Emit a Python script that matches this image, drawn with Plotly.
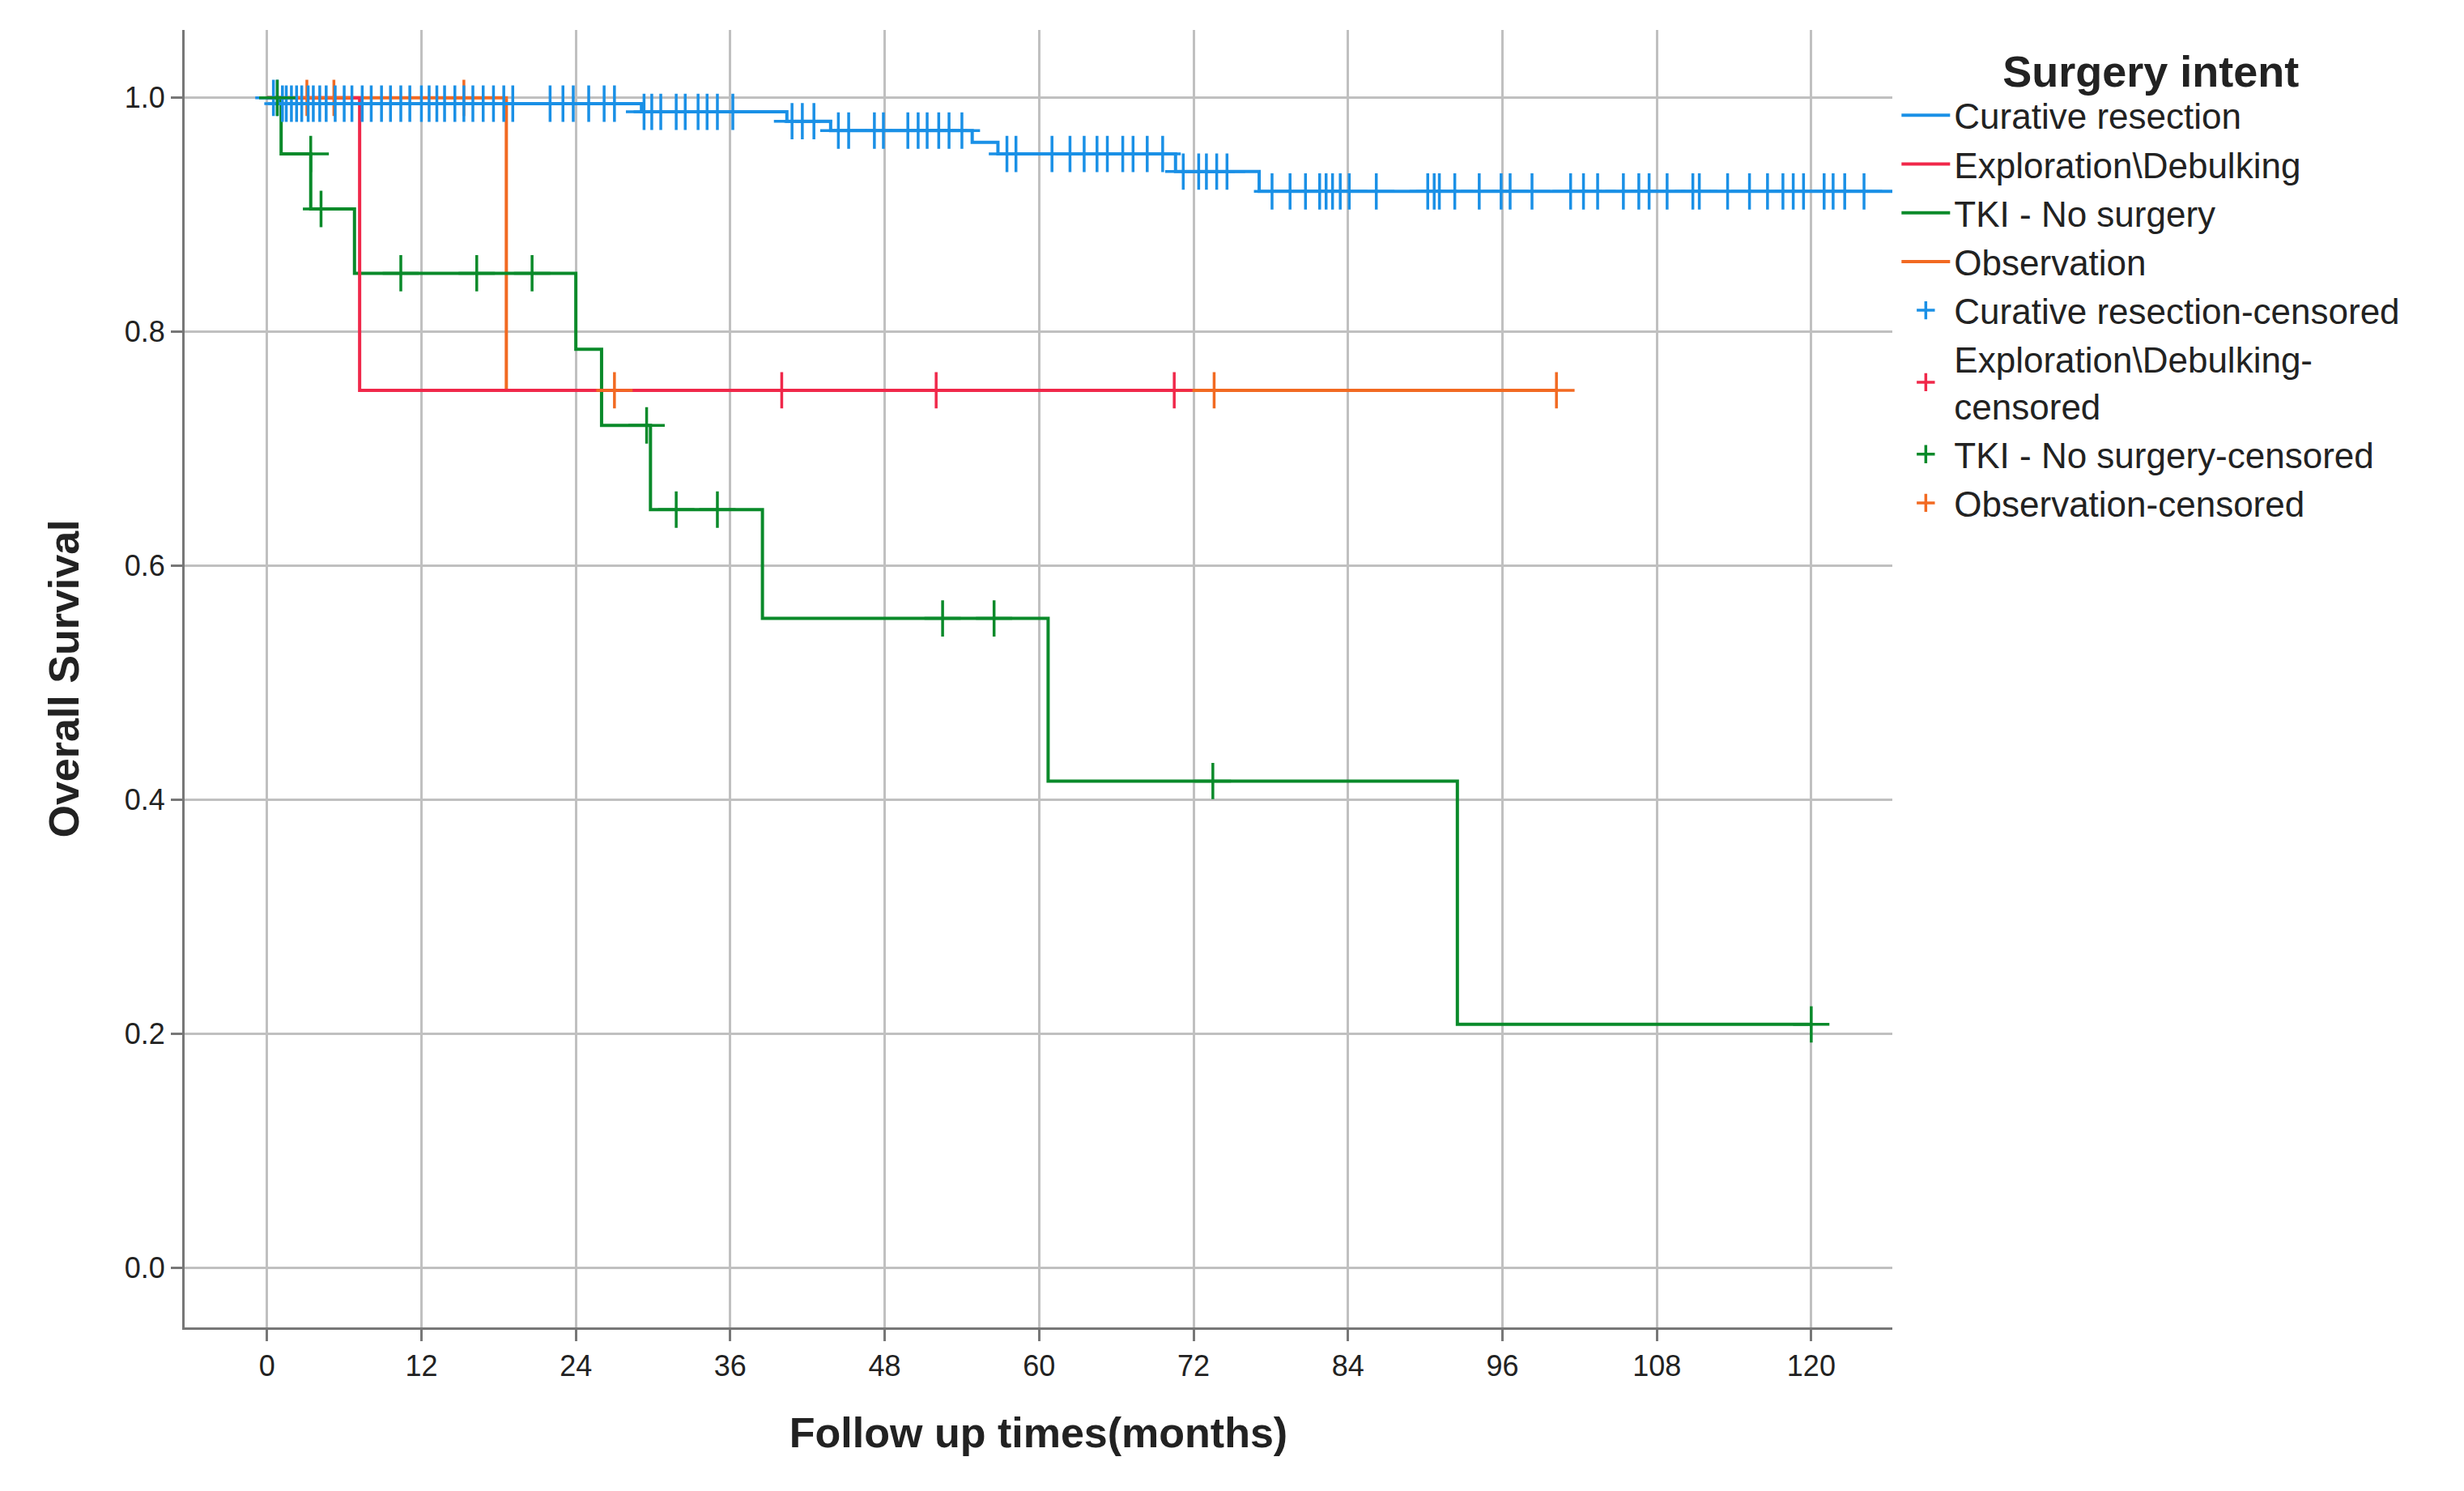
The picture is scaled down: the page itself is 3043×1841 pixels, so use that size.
import plotly.graph_objects as go

# Kaplan-Meier step curves (months, survival)
cur_t = [0, 1.0, 29.1, 40.4, 43.8, 54.8, 56.8, 70.6, 77.1, 126.3]
cur_s = [1.0, 0.995, 0.988, 0.980, 0.972, 0.962, 0.952, 0.937, 0.920, 0.920]
cur_cens_t = [0.5, 0.8, 1.2, 1.5, 1.9, 2.3, 2.7, 3.2, 3.6, 4.1, 4.6, 5.3, 6.0, 6.6, 7.4, 8.1, 8.9, 9.6,
              10.4, 11.1, 12.0, 12.6, 13.2, 13.8, 14.6, 15.3, 16.0, 16.8, 17.6, 18.4, 19.1,
              22.0, 23.0, 23.8, 25.0, 26.2, 27.0, 29.3, 29.9, 30.6, 31.8, 32.5, 33.5, 34.2, 35.0, 36.2,
              40.8, 41.6, 42.5, 44.4, 45.2, 47.2, 47.9, 49.8, 50.6, 51.3, 52.2, 53.0, 54.0,
              57.5, 58.2, 61.0, 62.4, 63.5, 64.5, 65.3, 66.5, 67.3, 68.4, 69.6,
              71.2, 72.4, 73.0, 73.8, 74.6,
              78.1, 79.5, 80.7, 81.8, 82.3, 82.8, 83.4, 84.1, 86.2, 90.2, 90.7, 91.1, 92.3, 94.2, 95.9,
              96.6, 98.3, 101.3, 102.3, 103.4, 105.4, 106.6, 107.4, 108.8, 110.8, 111.3, 113.5, 115.2,
              116.6, 117.8, 118.6, 119.4, 121.0, 121.7, 122.6, 124.1]
cur_cens_s = [1.0 if t < 1.0 else 0.995 if t < 29.1 else 0.988 if t < 40.4 else 0.980 if t < 43.8
              else 0.972 if t < 54.8 else 0.962 if t < 56.8 else 0.952 if t < 70.6 else 0.937 if t < 77.1
              else 0.920 for t in cur_cens_t]

exp_t = [0, 7.2, 70.5]
exp_s = [1.0, 0.75, 0.75]
exp_cens_t = [40.0, 52.0, 70.5]
exp_cens_s = [0.75, 0.75, 0.75]

tki_t = [0, 1.1, 3.4, 6.8, 24.0, 26.0, 29.8, 38.5, 60.7, 92.5, 120.0]
tki_s = [1.0, 0.952, 0.905, 0.85, 0.785, 0.72, 0.648, 0.555, 0.416, 0.208, 0.208]
tki_cens_t = [0.8, 3.4, 4.2, 10.4, 16.3, 20.6, 29.5, 31.8, 35.0, 52.5, 56.5, 73.5, 120.0]
tki_cens_s = [1.0, 0.952, 0.905, 0.85, 0.85, 0.85, 0.72, 0.648, 0.648, 0.555, 0.555, 0.416, 0.208]

obs_t = [0, 18.6, 100.2]
obs_s = [1.0, 0.75, 0.75]
obs_cens_t = [3.1, 5.2, 15.3, 27.0, 73.6, 100.2]
obs_cens_s = [1.0, 1.0, 1.0, 0.75, 0.75, 0.75]

groups = ["Curative resection", "Exploration\\Debulking", "TKI - No surgery", "Observation"]
colors = ["#1a90e6", "#f0284a", "#0a8a2a", "#f26a22"]
curves = [(cur_t, cur_s), (exp_t, exp_s), (tki_t, tki_s), (obs_t, obs_s)]
cens = [(cur_cens_t, cur_cens_s), (exp_cens_t, exp_cens_s), (tki_cens_t, tki_cens_s), (obs_cens_t, obs_cens_s)]
cens_names = ["Curative resection-censored", "Exploration\\Debulking-<br>censored",
              "TKI - No surgery-censored", "Observation-censored"]

# draw order: observation under exploration so the red line stays visible, legend order kept
draw_order = [3, 0, 2, 1]

fig = go.Figure()
for i in draw_order:
    t, s = curves[i]
    fig.add_trace(go.Scatter(x=t, y=s, mode="lines", name=groups[i], legendrank=i + 1,
                             line=dict(color=colors[i], width=4, shape="hv")))
for i in draw_order:
    t, s = cens[i]
    fig.add_trace(go.Scatter(x=t, y=s, mode="markers", name=cens_names[i], legendrank=i + 5,
                             marker=dict(symbol="cross-thin", size=32, color=colors[i],
                                         line=dict(color=colors[i], width=3.5))))

fig.update_layout(
    width=3043, height=1841,
    paper_bgcolor="white", plot_bgcolor="white",
    margin=dict(l=220, r=714, t=29, b=210),
    font=dict(family="Liberation Sans, Arial", color="#222222"),
    legend=dict(
        x=1.003, y=1.0, xanchor="left", yanchor="top",
        title=dict(text="<b>Surgery intent</b>", font=dict(size=54), side="top center"),
        font=dict(size=44), tracegroupgap=0, itemwidth=60,
    ),
)
fig.update_xaxes(
    range=[-6.4, 126.3], tickvals=list(range(0, 121, 12)),
    showgrid=True, gridcolor="#c0c0c0", gridwidth=3, zeroline=False,
    showline=True, linecolor="#777777", linewidth=3,
    ticks="outside", ticklen=14, tickcolor="#777777", tickwidth=3,
    tickfont=dict(size=36),
    title=dict(text="<b>Follow up times(months)</b>", font=dict(size=52), standoff=45),
)
fig.update_yaxes(
    range=[-0.051, 1.058], tickvals=[0, 0.2, 0.4, 0.6, 0.8, 1.0], tickformat=".1f",
    showgrid=True, gridcolor="#c0c0c0", gridwidth=3, zeroline=False,
    showline=True, linecolor="#777777", linewidth=3,
    ticks="outside", ticklen=14, tickcolor="#777777", tickwidth=3,
    tickfont=dict(size=36),
    title=dict(text="<b>Overall Survival</b>", font=dict(size=52), standoff=40),
)

fig.write_html("out.html")
